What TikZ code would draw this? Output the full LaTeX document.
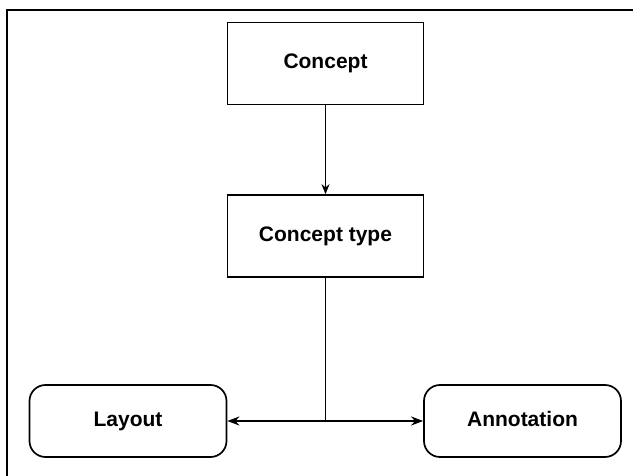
\documentclass[tikz,border=0pt]{standalone}
\usepackage{fontspec}
\setmainfont{Liberation Sans}
\usetikzlibrary{arrows.meta}
\tikzset{
  conceptbox/.style={draw, line width=1.7pt, minimum width=196pt, minimum height=82pt,
    font=\fontsize{21}{25}\selectfont\bfseries, inner sep=0pt,
    text height=15pt, text depth=4.5pt},
  roundbox/.style={conceptbox, rounded corners=16pt, minimum width=197pt, minimum height=72pt},
  link/.style={line width=1.4pt, -{Stealth[length=10pt,width=8pt]}},
  thicklink/.style={line width=2.1pt, -{Stealth[length=12pt,width=9pt]}},
}
\begin{document}
\begin{tikzpicture}[x=1pt,y=-1pt]
  \useasboundingbox (0,0) rectangle (633,476);
  \fill[white] (0,0) rectangle (633,476);
  % outer frame (top and left edges)
  \draw[line width=2.4pt] (7,480) -- (7,10) -- (640,10);

  \node[conceptbox] (concept) at (325.5,63.5) {Concept};
  \node[conceptbox] (ctype) at (325.5,236) {Concept type};
  \node[roundbox] (layout) at (128,421) {Layout};
  \node[roundbox] (annot) at (522.5,421) {Annotation};

  \coordinate (split) at (ctype.south |- layout.east);

  \draw[link] (concept) -- (ctype);
  \draw[line width=1.4pt] (ctype.south) -- (split);
  \draw[thicklink] (split) -- (layout.east);
  \draw[thicklink] (split) -- (annot.west);
\end{tikzpicture}
\end{document}
